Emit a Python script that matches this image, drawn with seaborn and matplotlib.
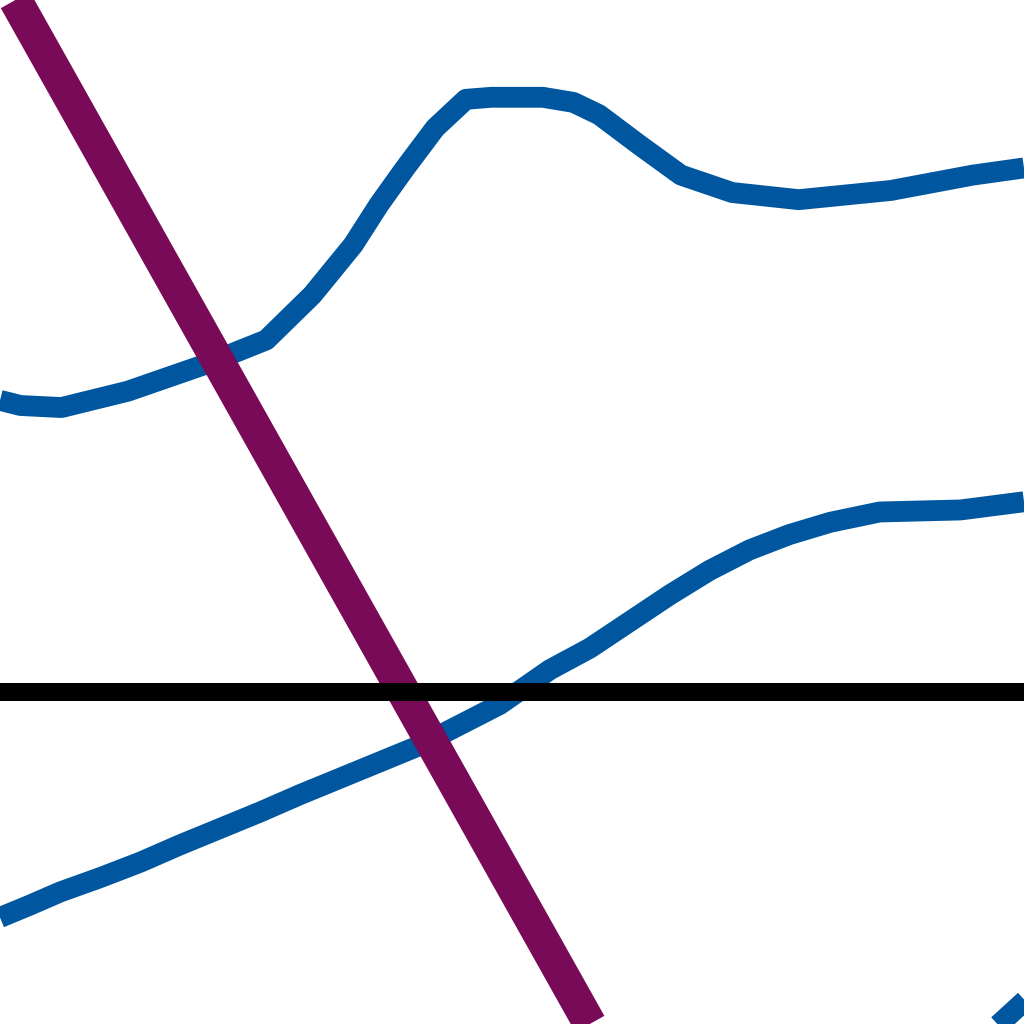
import numpy as np
import pandas as pd
import matplotlib
matplotlib.use('Agg')
import matplotlib.pyplot as plt
import seaborn as sns

# upper blue curve
upper_x = [0, 2, 6, 12.5, 20, 26, 30.5, 34.5, 37, 39.5, 42.5, 45.5, 48, 53, 56, 58.5, 62.5, 66.5, 71.5, 78, 87, 95, 100]
upper_y = [60.9, 60.4, 60.2, 61.8, 64.4, 66.8, 71.2, 76.1, 80.0, 83.5, 87.5, 90.3, 90.5, 90.5, 90.0, 88.8, 85.8, 82.9, 81.2, 80.5, 81.4, 82.9, 83.6]

# lower blue curve
lower_x = [0, 2.9, 5.9, 9.8, 13.7, 17.6, 21.5, 25.4, 29.3, 33.2, 37.1, 41.0, 44.9, 48.8, 53.7, 57.6, 61.5, 65.4, 69.3, 73.2, 77.1, 81.1, 85.9, 93.8, 100]
lower_y = [10.4, 11.6, 12.9, 14.3, 15.8, 17.5, 19.1, 20.7, 22.4, 24.0, 25.6, 27.2, 29.2, 31.2, 34.6, 36.7, 39.3, 41.9, 44.3, 46.3, 47.8, 49.0, 50.0, 50.2, 51.0]

# blue piece in the bottom-right corner
corner_x = [96.5, 100, 102]
corner_y = [-1, 2.2, 4]

# purple diagonal
diag_x = [1.5, 57.6]
diag_y = [100, 0]

# black horizontal line
baseline_y = 32.4

blue = '#0057a0'
purple = '#780a58'

sns.set_style('white')
fig = plt.figure(figsize=(10.24, 10.24), dpi=100)
ax = fig.add_axes([0, 0, 1, 1])

for xs, ys in [(upper_x, upper_y), (lower_x, lower_y), (corner_x, corner_y)]:
    sns.lineplot(x=xs, y=ys, ax=ax, color=blue, linewidth=15, sort=False,
                 estimator=None, zorder=2, solid_capstyle='butt')

sns.lineplot(x=diag_x, y=diag_y, ax=ax, color=purple, linewidth=24, sort=False,
             estimator=None, zorder=3, solid_capstyle='butt')
ax.axhline(baseline_y, color='black', linewidth=13, zorder=4)

ax.set_xlim(0, 100)
ax.set_ylim(0, 100)
ax.axis('off')

fig.savefig('out.png', dpi=100, facecolor='white')
